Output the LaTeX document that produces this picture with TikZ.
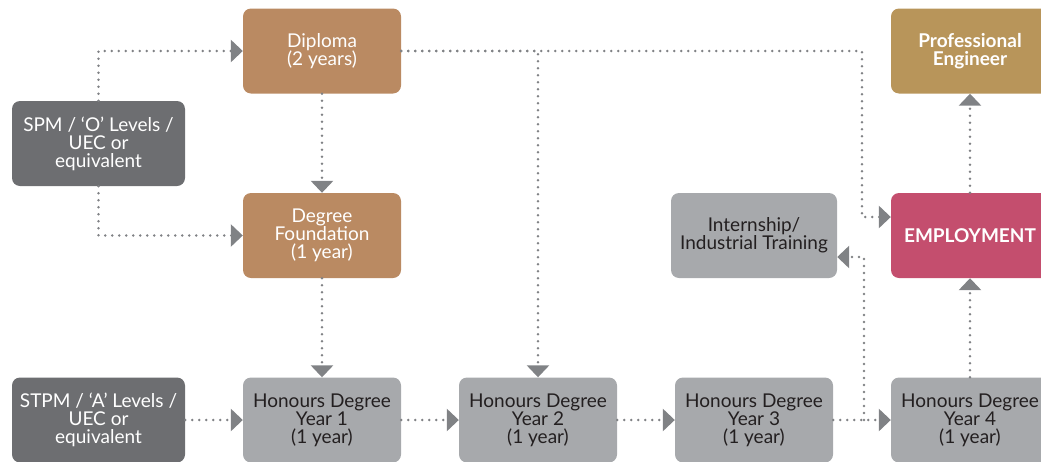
\documentclass[tikz,border=0pt]{standalone}
\usepackage{fontspec}
\setmainfont{Lato}
\usetikzlibrary{arrows.meta}
\definecolor{darkbox}{HTML}{6D6E71}
\definecolor{tanbox}{HTML}{BA8A62}
\definecolor{goldbox}{HTML}{B8955A}
\definecolor{rosebox}{HTML}{C44E6E}
\definecolor{greybox}{HTML}{A7A9AC}
\definecolor{textdark}{HTML}{231F20}
\definecolor{dotgrey}{HTML}{808285}

\begin{document}
\begin{tikzpicture}[x=1pt,y=-1pt,
  box/.style={rounded corners=8pt,minimum width=158pt,minimum height=85pt,inner sep=2pt,align=center,font=\fontsize{19}{18}\selectfont},
  flow/.style={dotgrey,line width=2.8pt,line cap=round,dash pattern=on 0pt off 7pt,-{Triangle[length=12pt,width=22pt]}}]
\useasboundingbox (0,0) rectangle (1041,461);
% entry levels
\node[box,fill=darkbox,text=white,minimum width=173pt] (spm) at (98.5,143.5) {SPM / ‘O’ Levels /\\UEC or\\equivalent};
\node[box,fill=darkbox,text=white,minimum width=173pt] (stpm) at (98.5,420) {STPM / ‘A’ Levels /\\UEC or\\equivalent};
% pre-university
\node[box,fill=tanbox,text=white] (dip) at (322,51) {Diploma\\(2 years)};
\node[box,fill=tanbox,text=white] (fnd) at (322,235.5) {Degree\\Foundation\\(1 year)};
% honours degree
\node[box,fill=greybox,text=textdark] (hd1) at (322,420) {Honours Degree\\Year 1\\(1 year)};
\node[box,fill=greybox,text=textdark] (hd2) at (538,420) {Honours Degree\\Year 2\\(1 year)};
\node[box,fill=greybox,text=textdark] (hd3) at (754,420) {Honours Degree\\Year 3\\(1 year)};
\node[box,fill=greybox,text=textdark] (hd4) at (970,420) {Honours Degree\\Year 4\\(1 year)};
% career
\node[box,fill=greybox,text=textdark,minimum width=166pt] (int) at (754,235.5) {Internship/\\Industrial Training};
\node[box,fill=rosebox,text=white,font=\fontsize{19}{18}\selectfont\bfseries] (emp) at (970,235.5) {EMPLOYMENT};
\node[box,fill=goldbox,text=white,font=\fontsize{19}{18}\selectfont\bfseries] (pe) at (970,51) {Professional\\Engineer};
\coordinate (bend) at (862,51);
\coordinate (split) at (864,420);
% connectors
\draw[flow] (spm.north) |- (dip.west);
\draw[flow] (spm.south) |- (fnd.west);
\draw[flow] (dip.south) -- (fnd.north);
\draw[flow] (fnd.south) -- (hd1.north);
\draw[flow] (dip.east) -| (hd2.north);
\draw[flow] (dip.east) -- (bend) |- ([yshift=18.5pt]emp.west);
\draw[flow] (stpm.east) -- (hd1.west);
\draw[flow] (hd1.east) -- (hd2.west);
\draw[flow] (hd2.east) -- (hd3.west);
\draw[flow] (hd3.east) -- (hd4.west);
\draw[flow] (split) |- ([yshift=-21.5pt]int.east);
\draw[flow] (hd4.north) -- (emp.south);
\draw[flow] (emp.north) -- (pe.south);
\end{tikzpicture}
\end{document}
